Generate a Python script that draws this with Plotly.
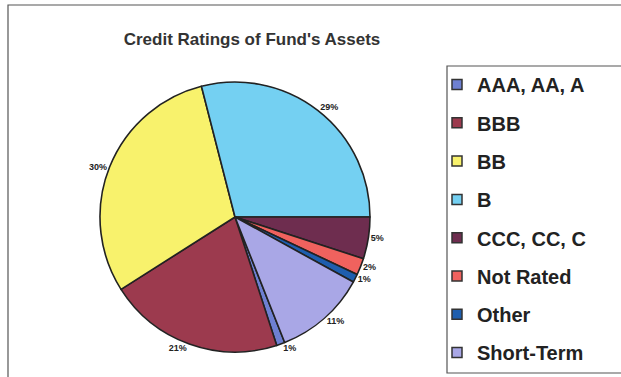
import plotly.graph_objects as go

categories = ["AAA, AA, A", "BBB", "BB", "B", "CCC, CC, C", "Not Rated", "Other", "Short-Term"]
shares = [1, 21, 30, 29, 5, 2, 1, 11]
colors = ["#6E80D2", "#9C3A4E", "#F8F26C", "#74D0F2", "#6E2D4F", "#F0625E", "#1E5EAE", "#A9A7E6"]
title_text = "Credit Ratings of Fund's Assets"

W, H = 621, 377
fig = go.Figure()

fig.add_trace(go.Pie(
    labels=categories,
    values=shares,
    sort=False,
    direction="clockwise",
    rotation=158.4,
    marker=dict(colors=colors, line=dict(color="#222222", width=1.6)),
    textposition="outside",
    texttemplate="%{value}%",
    textfont=dict(family="Liberation Sans, Arial", size=9, color="#222222", weight="bold"),
    showlegend=False,
    hoverinfo="label+percent",
    domain=dict(x=[100 / W, 370 / W], y=[(H - 352) / H, (H - 82) / H]),
))

for i, (cat, col) in enumerate(zip(categories, colors)):
    fig.add_trace(go.Scatter(
        x=[None], y=[None], mode="markers", name=cat,
        legendgroup=f"g{i}",
        marker=dict(symbol="square", size=10, color=col, line=dict(color="#333333", width=1.5)),
    ))

fig.update_layout(
    width=W, height=H,
    margin=dict(l=0, r=0, t=0, b=0),
    paper_bgcolor="white",
    plot_bgcolor="white",
    xaxis=dict(visible=False),
    yaxis=dict(visible=False),
    title=dict(
        text=title_text,
        x=252 / W, xanchor="center",
        y=1 - 39 / H, yanchor="middle",
        font=dict(family="Liberation Sans, Arial", size=17, color="#333333", weight="bold"),
    ),
    legend=dict(
        x=437 / W, xanchor="left",
        y=1 - 65 / H, yanchor="top",
        bgcolor="rgba(0,0,0,0)",
        borderwidth=0,
        font=dict(family="Liberation Sans, Arial", size=20, color="#222222", weight="bold"),
        tracegroupgap=9.3,
        itemclick=False, itemdoubleclick=False,
    ),
    shapes=[
        dict(type="rect", xref="paper", yref="paper",
             x0=8 / W, x1=1.02, y0=-0.02, y1=1 - 5 / H,
             line=dict(color="#555555", width=1.2), fillcolor="rgba(0,0,0,0)", layer="below"),
        dict(type="rect", xref="paper", yref="paper",
             x0=447 / W, x1=1.02, y0=1 - 373 / H, y1=1 - 66 / H,
             line=dict(color="#555555", width=1.2), fillcolor="rgba(0,0,0,0)", layer="below"),
    ],
)

fig.write_html("out.html")
